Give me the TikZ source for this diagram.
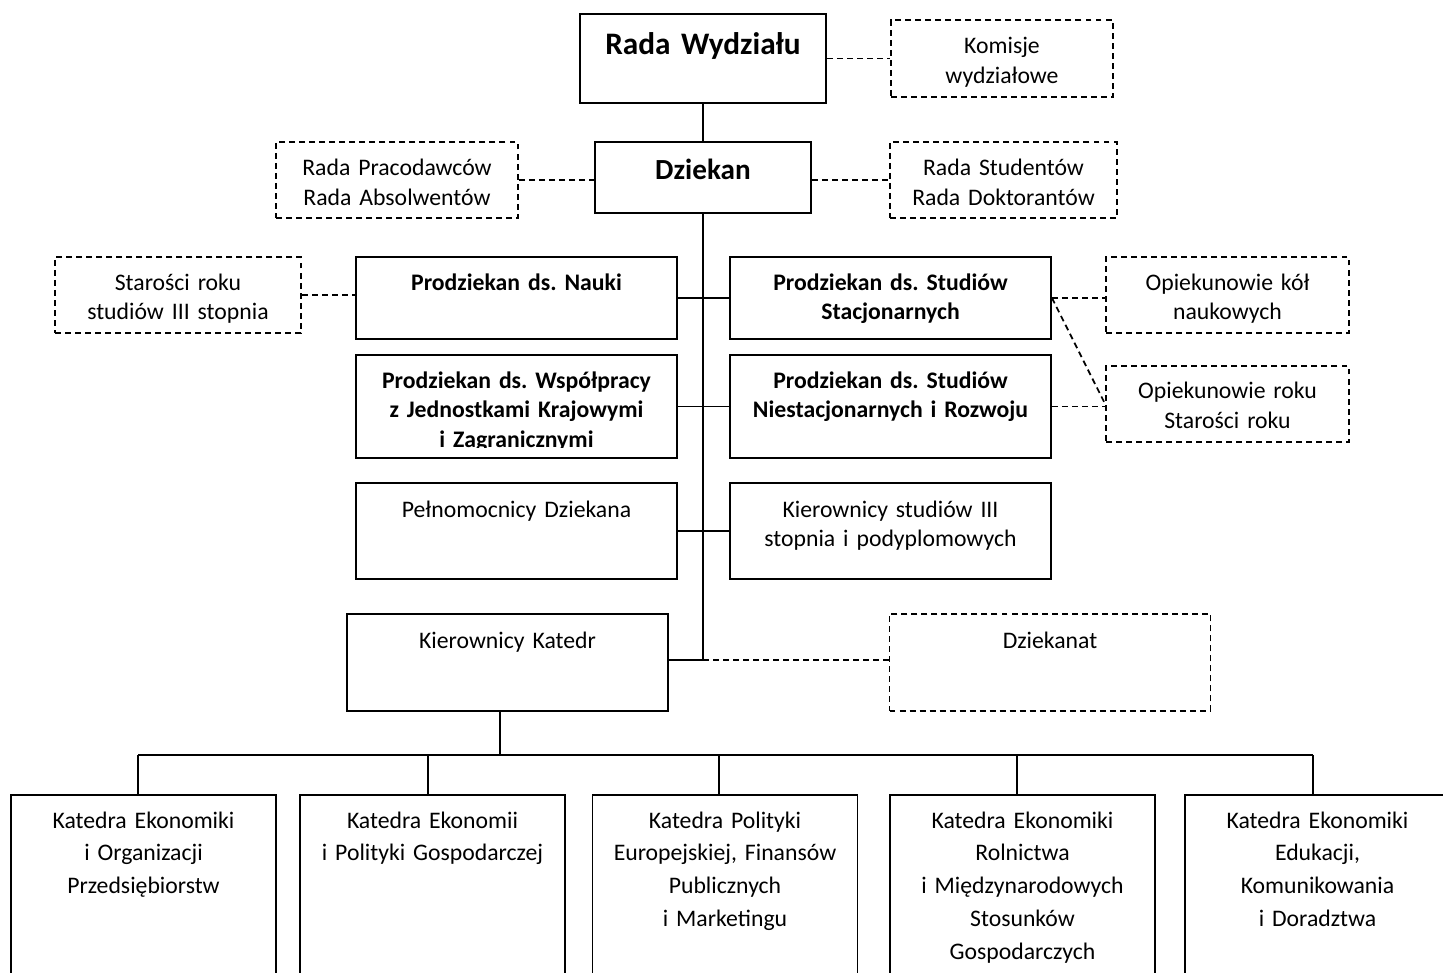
\documentclass[tikz,border=0pt]{standalone}
\usepackage{fontspec}
\setmainfont{Carlito}
\frenchspacing
\usetikzlibrary{backgrounds}
\pgfdeclarelayer{edgelayer}
\pgfdeclarelayer{nodelayer}
\pgfsetlayers{edgelayer,nodelayer,main}
\tikzset{font=\fontsize{13.5}{17}\selectfont}
\tikzstyle{none}=[inner sep=0pt]
\tikzstyle{box}=[rectangle,draw,line width=1.1pt,inner sep=0pt,minimum width=6.42cm]
\tikzstyle{dbox}=[rectangle,draw,line width=1pt,dash pattern=on 3.4pt off 2.3pt,inner sep=0pt,minimum width=4.86cm,minimum height=1.52cm]
\tikzstyle{katbox}=[box,minimum width=5.3cm,minimum height=4.1cm]
\tikzstyle{txt}=[inner sep=0pt,align=center,text width=6cm,anchor=base]
\tikzstyle{btxt}=[txt,font=\fontsize{13.5}{16.8}\selectfont\bfseries]
\tikzstyle{ktxt}=[txt,font=\fontsize{13.5}{18.7}\selectfont]
\tikzstyle{conn}=[line width=1pt]
\tikzstyle{dconn}=[line width=1pt,dash pattern=on 3.4pt off 2.3pt]

\begin{document}
\begin{tikzpicture}
	\useasboundingbox (0, 0) rectangle (28.86, -19.46);
	\begin{pgfonlayer}{nodelayer}
		\node [style=box, minimum width=4.92cm, minimum height=1.78cm] (0) at (14.06, -1.17) {};
		\node [style=dbox, minimum width=4.44cm, minimum height=1.54cm] (1) at (20.04, -1.17) {};
		\node [style=box, minimum width=4.32cm, minimum height=1.42cm] (2) at (14.06, -3.55) {};
		\node [style=dbox, minimum width=4.84cm] (3) at (7.94, -3.6) {};
		\node [style=dbox, minimum width=4.54cm] (4) at (20.07, -3.6) {};
		\node [style=dbox, minimum width=4.92cm] (5) at (3.56, -5.9) {};
		\node [style=box, minimum height=1.64cm] (6) at (10.33, -5.96) {};
		\node [style=box, minimum height=1.64cm] (7) at (17.81, -5.96) {};
		\node [style=dbox] (8) at (24.55, -5.9) {};
		\node [style=box, minimum height=2.06cm] (9) at (10.33, -8.13) {};
		\node [style=box, minimum height=2.06cm] (10) at (17.81, -8.13) {};
		\node [style=dbox] (11) at (24.55, -8.08) {};
		\node [style=box, minimum height=1.92cm] (12) at (10.33, -10.62) {};
		\node [style=box, minimum height=1.92cm] (13) at (17.81, -10.62) {};
		\node [style=box, minimum height=1.94cm] (14) at (10.15, -13.25) {};
		\node [style=dbox, minimum width=6.42cm, minimum height=1.94cm] (15) at (21, -13.25) {};
		\node [style=katbox] (16) at (2.87, -17.95) {};
		\node [style=katbox] (17) at (8.65, -17.95) {};
		\node [style=katbox] (18) at (14.5, -17.95) {};
		\node [style=katbox] (19) at (20.45, -17.95) {};
		\node [style=katbox] (20) at (26.35, -17.95) {};
		\node [style=txt, font=\fontsize{17.8}{21}\selectfont\bfseries] (21) at (14.06, -1.1) {Rada Wydziału};
		\node [style=txt] (22) at (20.04, -1.08) {Komisje\\wydziałowe};
		\node [style=txt, font=\fontsize{16.6}{19}\selectfont\bfseries] (23) at (14.06, -3.6) {Dziekan};
		\node [style=txt] (24) at (7.94, -3.52) {Rada Pracodawców\\Rada Absolwentów};
		\node [style=txt] (25) at (20.07, -3.52) {Rada Studentów\\Rada Doktorantów};
		\node [style=txt] (26) at (3.56, -5.8) {Starości roku\\studiów III stopnia};
		\node [style=btxt] (27) at (10.33, -5.8) {Prodziekan ds. Nauki};
		\node [style=btxt] (28) at (17.81, -5.8) {Prodziekan ds. Studiów\\Stacjonarnych};
		\node [style=txt] (29) at (24.55, -5.8) {Opiekunowie kół\\naukowych};
		\begin{scope}
			\clip (7.12, -7.1) rectangle (13.54, -8.94);
			\node [style=btxt] (30) at (10.33, -7.76) {Prodziekan ds. Współpracy\\z Jednostkami Krajowymi\\i Zagranicznymi};
		\end{scope}
		\node [style=btxt] (31) at (17.81, -7.76) {Prodziekan ds. Studiów\\Niestacjonarnych i Rozwoju};
		\node [style=txt] (32) at (24.55, -7.98) {Opiekunowie roku\\Starości roku};
		\node [style=txt] (33) at (10.33, -10.34) {Pełnomocnicy Dziekana};
		\node [style=txt] (34) at (17.81, -10.34) {Kierownicy studiów III\\stopnia i podyplomowych};
		\node [style=txt] (35) at (10.15, -12.96) {Kierownicy Katedr};
		\node [style=txt] (36) at (21, -12.96) {Dziekanat};
		\node [style=ktxt] (37) at (2.87, -16.56) {Katedra Ekonomiki\\i Organizacji\\Przedsiębiorstw};
		\node [style=ktxt] (38) at (8.65, -16.56) {Katedra Ekonomii\\i Polityki Gospodarczej};
		\node [style=ktxt] (39) at (14.5, -16.56) {Katedra Polityki\\Europejskiej, Finansów\\Publicznych\\i Marketingu};
		\node [style=ktxt] (40) at (20.45, -16.56) {Katedra Ekonomiki\\Rolnictwa\\i Międzynarodowych\\Stosunków\\Gospodarczych};
		\node [style=ktxt] (41) at (26.35, -16.56) {Katedra Ekonomiki\\Edukacji,\\Komunikowania\\i Doradztwa};
		\node [style=none] (42) at (14.06, -13.2) {};
		\node [style=none] (43) at (10, -15.1) {};
		\node [style=none] (44) at (2.76, -15.1) {};
		\node [style=none] (45) at (8.56, -15.1) {};
		\node [style=none] (46) at (14.38, -15.1) {};
		\node [style=none] (47) at (20.34, -15.1) {};
		\node [style=none] (48) at (26.26, -15.1) {};
	\end{pgfonlayer}
	\begin{pgfonlayer}{edgelayer}
		\draw [style=dconn] (0.east) to (1.west);
		\draw [style=conn] (0.south) to (2.north);
		\draw [style=dconn] (3.east) to (3.east -| 2.west);
		\draw [style=dconn] (4.west -| 2.east) to (4.west);
		\draw [style=conn] (2.south) to (42.center);
		\draw [style=dconn] (5.east) to (5.east -| 6.west);
		\draw [style=conn] (6.east) to (7.west);
		\draw [style=dconn] (7.east) to (7.east -| 8.west);
		\draw [style=dconn] (7.east) to (11.west);
		\draw [style=conn] (9.east) to (10.west);
		\draw [style=dconn] (10.east) to (10.east -| 11.west);
		\draw [style=conn] (12.east) to (13.west);
		\draw [style=conn] (42.center -| 14.east) to (42.center);
		\draw [style=dconn] (42.center) to (42.center -| 15.west);
		\draw [style=conn] (43.center |- 14.south) to (43.center);
		\draw [style=conn] (44.center) to (48.center);
		\draw [style=conn] (44.center) to (44.center |- 16.north);
		\draw [style=conn] (45.center) to (45.center |- 17.north);
		\draw [style=conn] (46.center) to (46.center |- 18.north);
		\draw [style=conn] (47.center) to (47.center |- 19.north);
		\draw [style=conn] (48.center) to (48.center |- 20.north);
	\end{pgfonlayer}
\end{tikzpicture}
\end{document}
